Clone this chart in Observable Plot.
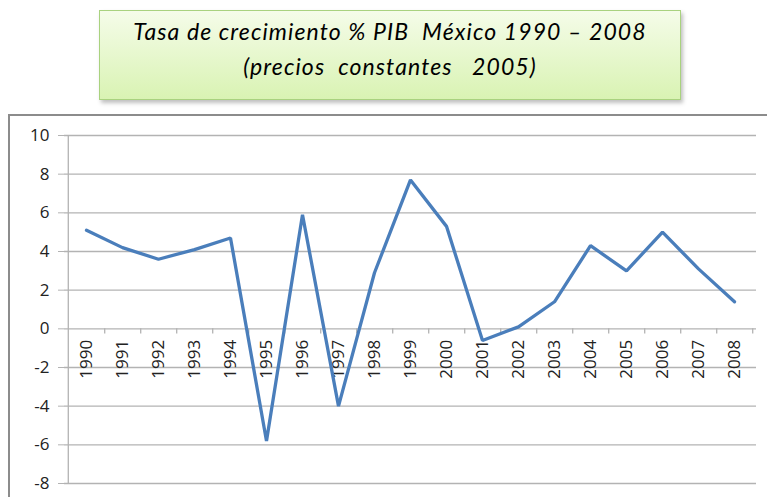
<!DOCTYPE html>
<html>
<head>
<meta charset="utf-8">
<script src="https://cdn.jsdelivr.net/npm/d3@7"></script>
<script src="https://cdn.jsdelivr.net/npm/@observablehq/plot@0.6"></script>
<style>
  html, body { margin: 0; padding: 0; background: #fff; }
  body { width: 767px; height: 497px; position: relative; overflow: hidden; font-family: "Open Sans", sans-serif; }
  #title {
    position: absolute; left: 99px; top: 10px; width: 582px; height: 90px;
    border: 1.5px solid #a9d27f;
    background: linear-gradient(#f5fce9, #d9f3b3);
    box-shadow: 2px 3px 4px rgba(0,0,0,0.25);
    text-align: center; font-family: Lato, sans-serif; font-style: italic; font-weight: 400; font-size: 23px; letter-spacing: 1.1px; color: #000;
    box-sizing: border-box; padding-top: 3px; line-height: 35px;
  }
  #frame {
    position: absolute; left: 8px; top: 114px; width: 820px; height: 500px;
    border: 2px solid #8c8c8c; box-sizing: border-box;
  }
  #chart { position: absolute; left: 0; top: 114px; }
</style>
</head>
<body>
<div id="frame"></div>
<div id="title">Tasa de crecimiento % PIB&nbsp; México 1990 – 2008<br>(precios&nbsp; constantes&nbsp;&nbsp; 2005)</div>
<div id="chart"></div>
<script>
const years = ["1990","1991","1992","1993","1994","1995","1996","1997","1998","1999","2000","2001","2002","2003","2004","2005","2006","2007","2008"];
const growth = [5.1, 4.2, 3.6, 4.1, 4.7, -5.8, 5.9, -4.0, 2.9, 7.7, 5.3, -0.6, 0.1, 1.4, 4.3, 3.0, 5.0, 3.1, 1.4];
const yTicks = [-8, -6, -4, -2, 0, 2, 4, 6, 8, 10];

const data = years.map((y, i) => ({year: y, value: growth[i]}));

const W = 767, H = 383, ML = 64, MR = 11, MT = 21, MB = 14;
const step = (W - ML - MR) / years.length;

const plot = Plot.plot({
  width: W, height: H,
  marginLeft: ML, marginRight: MR, marginTop: MT, marginBottom: MB,
  style: {fontFamily: "Open Sans, sans-serif", fontSize: "17px", color: "#222", background: "transparent"},
  x: {type: "point", domain: years, padding: 0.5, axis: null},
  y: {domain: [-8, 10], ticks: yTicks, label: null},
  marks: [
    Plot.ruleY(yTicks, {stroke: "#b3b3b3", strokeWidth: 1.3}),
    Plot.axisY({ticks: yTicks, label: null, tickSize: 6, tickPadding: 9, stroke: "#b3b3b3", fill: "#222", fontSize: 17, tickFormat: d => String(d)}),
    Plot.ruleX([years[0]], {y1: -8, y2: 10, dx: -step / 2, stroke: "#b3b3b3", strokeWidth: 1.3}),
    Plot.ruleX(years, {x: d => d, y1: 0, y2: -0.27, dx: step / 2, stroke: "#b3b3b3", strokeWidth: 1.3}),
    Plot.text(years, {x: d => d, y: 0, text: d => d, rotate: -90, textAnchor: "end", dy: 11, fontSize: 17, fill: "#222"}),
    Plot.line(data, {x: "year", y: "value", stroke: "#4a7ebb", strokeWidth: 3.3, strokeLinejoin: "miter"})
  ]
});
document.getElementById("chart").appendChild(plot);
</script>
</body>
</html>
